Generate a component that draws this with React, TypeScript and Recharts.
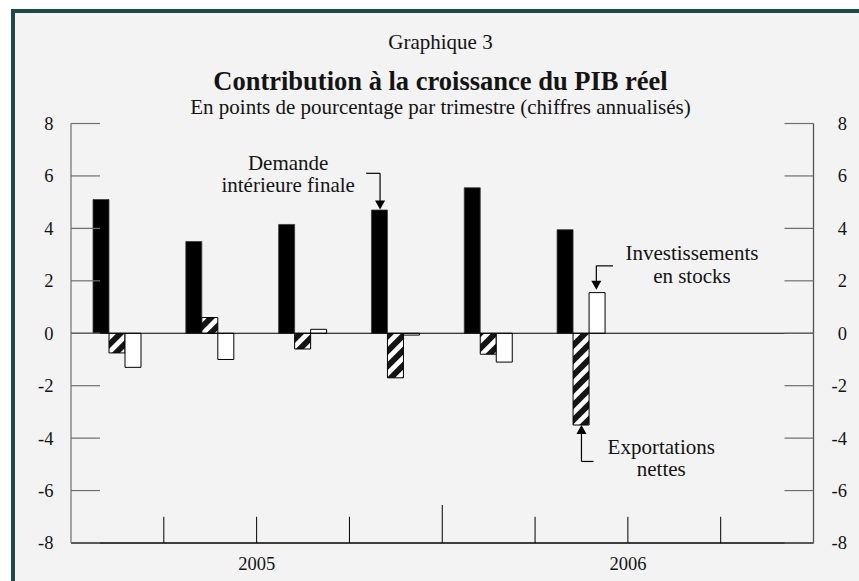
import React from 'react';
import {
  ComposedChart,
  Bar,
  XAxis,
  YAxis,
  ReferenceLine,
  ReferenceDot,
} from 'recharts';

// ---- Data ----
const quarters = ['2005T1', '2005T2', '2005T3', '2005T4', '2006T1', '2006T2', '2006T3', '2006T4'];
const quarterMid = [0.5, 1.5, 2.5, 3.5, 4.5, 5.5, 6.5, 7.5];
const demandeInterieure = [5.1, 3.5, 4.15, 4.7, 5.55, 3.95, null, null];
const exportationsNettes = [-0.75, 0.6, -0.6, -1.7, -0.8, -3.5, null, null];
const investissementsStocks = [-1.3, -1.0, 0.15, -0.07, -1.1, 1.55, null, null];

const yTicks = [-8, -6, -4, -2, 0, 2, 4, 6, 8];
const yearLabels = ['2005', '2006'];
const yearLabelPos = [2, 6];
const quarterBoundaries = [1, 2, 3, 5, 6, 7];
const yearBoundaries = [4];

// annotation texts (data coordinates: x on quarter index scale, y in points)
const demandeText = [
  { text: 'Demande', x: 2.34, y: 6.23 },
  { text: 'intérieure finale', x: 2.34, y: 5.39 },
];
const investText = [
  { text: 'Investissements', x: 6.69, y: 2.8 },
  { text: 'en stocks', x: 6.69, y: 1.92 },
];
const exportText = [
  { text: 'Exportations', x: 6.36, y: -4.59 },
  { text: 'nettes', x: 6.36, y: -5.46 },
];
// leader lines
const leaders = [
  [{ x: 3.18, y: 6.1 }, { x: 3.33, y: 6.1 }],
  [{ x: 3.33, y: 6.1 }, { x: 3.33, y: 4.9 }],
  [{ x: 5.84, y: 2.57 }, { x: 5.66, y: 2.57 }],
  [{ x: 5.66, y: 2.57 }, { x: 5.66, y: 1.8 }],
  [{ x: 5.5, y: -3.7 }, { x: 5.5, y: -4.89 }],
  [{ x: 5.5, y: -4.89 }, { x: 5.63, y: -4.89 }],
];
const arrowsDown = [
  { x: 3.33, y: 4.72 },
  { x: 5.66, y: 1.66 },
];
const arrowsUp = [{ x: 5.5, y: -3.5 }];

const rows = quarters.map((q, i) => ({
  q,
  idx: quarterMid[i],
  dif: demandeInterieure[i],
  nx: exportationsNettes[i],
  inv: investissementsStocks[i],
}));

const FONT = 'Liberation Serif, Times New Roman, serif';
const TEXT = '#141414';

const LeftTick = (props: any) => {
  const { x, y, payload } = props;
  return (
    <g>
      <line x1={x} x2={x + 29} y1={y} y2={y} stroke="#6e6e6e" strokeWidth={1.2} />
      <text x={x - 17.5} y={y} dy="0.35em" textAnchor="end" fontSize={18.5} fontFamily={FONT} fill={TEXT}>
        {payload.value}
      </text>
    </g>
  );
};

const RightTick = (props: any) => {
  const { x, y, payload } = props;
  return (
    <g>
      <line x1={x - 29} x2={x} y1={y} y2={y} stroke="#6e6e6e" strokeWidth={1.2} />
      <text x={x + 33.5} y={y} dy="0.35em" textAnchor="end" fontSize={18.5} fontFamily={FONT} fill={TEXT}>
        {payload.value}
      </text>
    </g>
  );
};

const YearTick = (props: any) => {
  const { x, y, payload } = props;
  const i = yearLabelPos.indexOf(payload.value);
  return (
    <text x={x} y={y + 27} textAnchor="middle" fontSize={18.5} fontFamily={FONT} fill={TEXT}>
      {i >= 0 ? yearLabels[i] : ''}
    </text>
  );
};

const textShape = (label: string) => (p: any) => (
  <text x={p.cx} y={p.cy} textAnchor="middle" fontSize={21} fontFamily={FONT} fill={TEXT}>
    {label}
  </text>
);

const arrowDownShape = (p: any) => (
  <path d={`M${p.cx},${p.cy} L${p.cx - 5},${p.cy - 9} L${p.cx + 5},${p.cy - 9} Z`} fill="#000" />
);
const arrowUpShape = (p: any) => (
  <path d={`M${p.cx},${p.cy} L${p.cx - 5},${p.cy + 9} L${p.cx + 5},${p.cy + 9} Z`} fill="#000" />
);

export default function App() {
  const titleBase: React.CSSProperties = {
    position: 'absolute',
    left: 40.5,
    width: 800,
    textAlign: 'center',
    fontFamily: FONT,
    color: TEXT,
    whiteSpace: 'nowrap',
  };
  return (
    <div style={{ position: 'absolute', left: 0, top: 0, width: 859, height: 581, overflow: 'hidden', background: '#fff' }}>
      <div
        style={{
          position: 'absolute',
          left: 11,
          top: 9,
          width: 848,
          height: 572,
          boxSizing: 'border-box',
          borderTop: '4px solid #1c4942',
          borderLeft: '4px solid #1c4942',
          background: '#f2f3f2',
        }}
      />
      <div style={{ ...titleBase, top: 32.4, fontSize: 21, lineHeight: '21px' }}>Graphique 3</div>
      <div style={{ ...titleBase, top: 67.8, fontSize: 26.5, lineHeight: '26.5px', fontWeight: 'bold' }}>
        Contribution à la croissance du PIB réel
      </div>
      <div style={{ ...titleBase, top: 97.4, fontSize: 21, lineHeight: '21px' }}>
        En points de pourcentage par trimestre (chiffres annualisés)
      </div>
      <div style={{ position: 'absolute', left: 0, top: 0 }}>
        <ComposedChart
          width={859}
          height={581}
          data={rows}
          margin={{ top: 123.5, right: 5.5, bottom: 8, left: 31 }}
          barGap={0}
          barCategoryGap={0}
        >
          <defs>
            <pattern id="hatch" patternUnits="userSpaceOnUse" width={10.6} height={10.6} patternTransform="rotate(45)">
              <rect width={10.6} height={10.6} fill="#fff" />
              <rect width={5.8} height={10.6} fill="#151515" />
            </pattern>
          </defs>
          <XAxis xAxisId="cat" dataKey="q" hide height={0} />
          <XAxis
            xAxisId="num"
            dataKey="idx"
            type="number"
            domain={[0, 8]}
            allowDataOverflow
            ticks={yearLabelPos}
            interval={0}
            height={30}
            tickSize={0}
            tickMargin={0}
            tickLine={false}
            axisLine={{ stroke: '#000', strokeWidth: 1.3 }}
            tick={<YearTick />}
          />
          <YAxis
            yAxisId="left"
            domain={[-8, 8]}
            allowDataOverflow
            ticks={yTicks}
            interval={0}
            width={40}
            tickSize={0}
            tickMargin={0}
            tickLine={false}
            axisLine={{ stroke: '#777', strokeWidth: 1.3 }}
            tick={<LeftTick />}
          />
          <YAxis
            yAxisId="right"
            orientation="right"
            domain={[-8, 8]}
            allowDataOverflow
            ticks={yTicks}
            interval={0}
            width={40}
            tickSize={0}
            tickMargin={0}
            tickLine={false}
            axisLine={{ stroke: '#555', strokeWidth: 1.3 }}
            tick={<RightTick />}
          />
          <Bar xAxisId="cat" yAxisId="left" dataKey="dif" barSize={16} fill="#000" stroke="#3a3a3a" strokeWidth={0.8} isAnimationActive={false} />
          <Bar xAxisId="cat" yAxisId="left" dataKey="nx" barSize={16} fill="url(#hatch)" stroke="#000" strokeWidth={1} isAnimationActive={false} />
          <Bar xAxisId="cat" yAxisId="left" dataKey="inv" barSize={16} fill="#fff" stroke="#000" strokeWidth={1} isAnimationActive={false} />
          <ReferenceLine xAxisId="num" yAxisId="left" y={0} stroke="#000" strokeWidth={1.2} />
          {quarterBoundaries.map((b) => (
            <ReferenceLine
              key={`qb${b}`}
              xAxisId="num"
              yAxisId="left"
              segment={[{ x: b, y: -8 }, { x: b, y: -7 }]}
              stroke="#000"
              strokeWidth={1}
            />
          ))}
          {yearBoundaries.map((b) => (
            <ReferenceLine
              key={`yb${b}`}
              xAxisId="num"
              yAxisId="left"
              segment={[{ x: b, y: -8 }, { x: b, y: -6.55 }]}
              stroke="#000"
              strokeWidth={1}
            />
          ))}
          {leaders.map((s, i) => (
            <ReferenceLine key={`ld${i}`} xAxisId="num" yAxisId="left" segment={s} stroke="#000" strokeWidth={1.2} />
          ))}
          {arrowsDown.map((a, i) => (
            <ReferenceDot key={`ad${i}`} xAxisId="num" yAxisId="left" x={a.x} y={a.y} shape={arrowDownShape} />
          ))}
          {arrowsUp.map((a, i) => (
            <ReferenceDot key={`au${i}`} xAxisId="num" yAxisId="left" x={a.x} y={a.y} shape={arrowUpShape} />
          ))}
          {[...demandeText, ...investText, ...exportText].map((t, i) => (
            <ReferenceDot key={`tx${i}`} xAxisId="num" yAxisId="left" x={t.x} y={t.y} shape={textShape(t.text)} />
          ))}
        </ComposedChart>
      </div>
    </div>
  );
}
